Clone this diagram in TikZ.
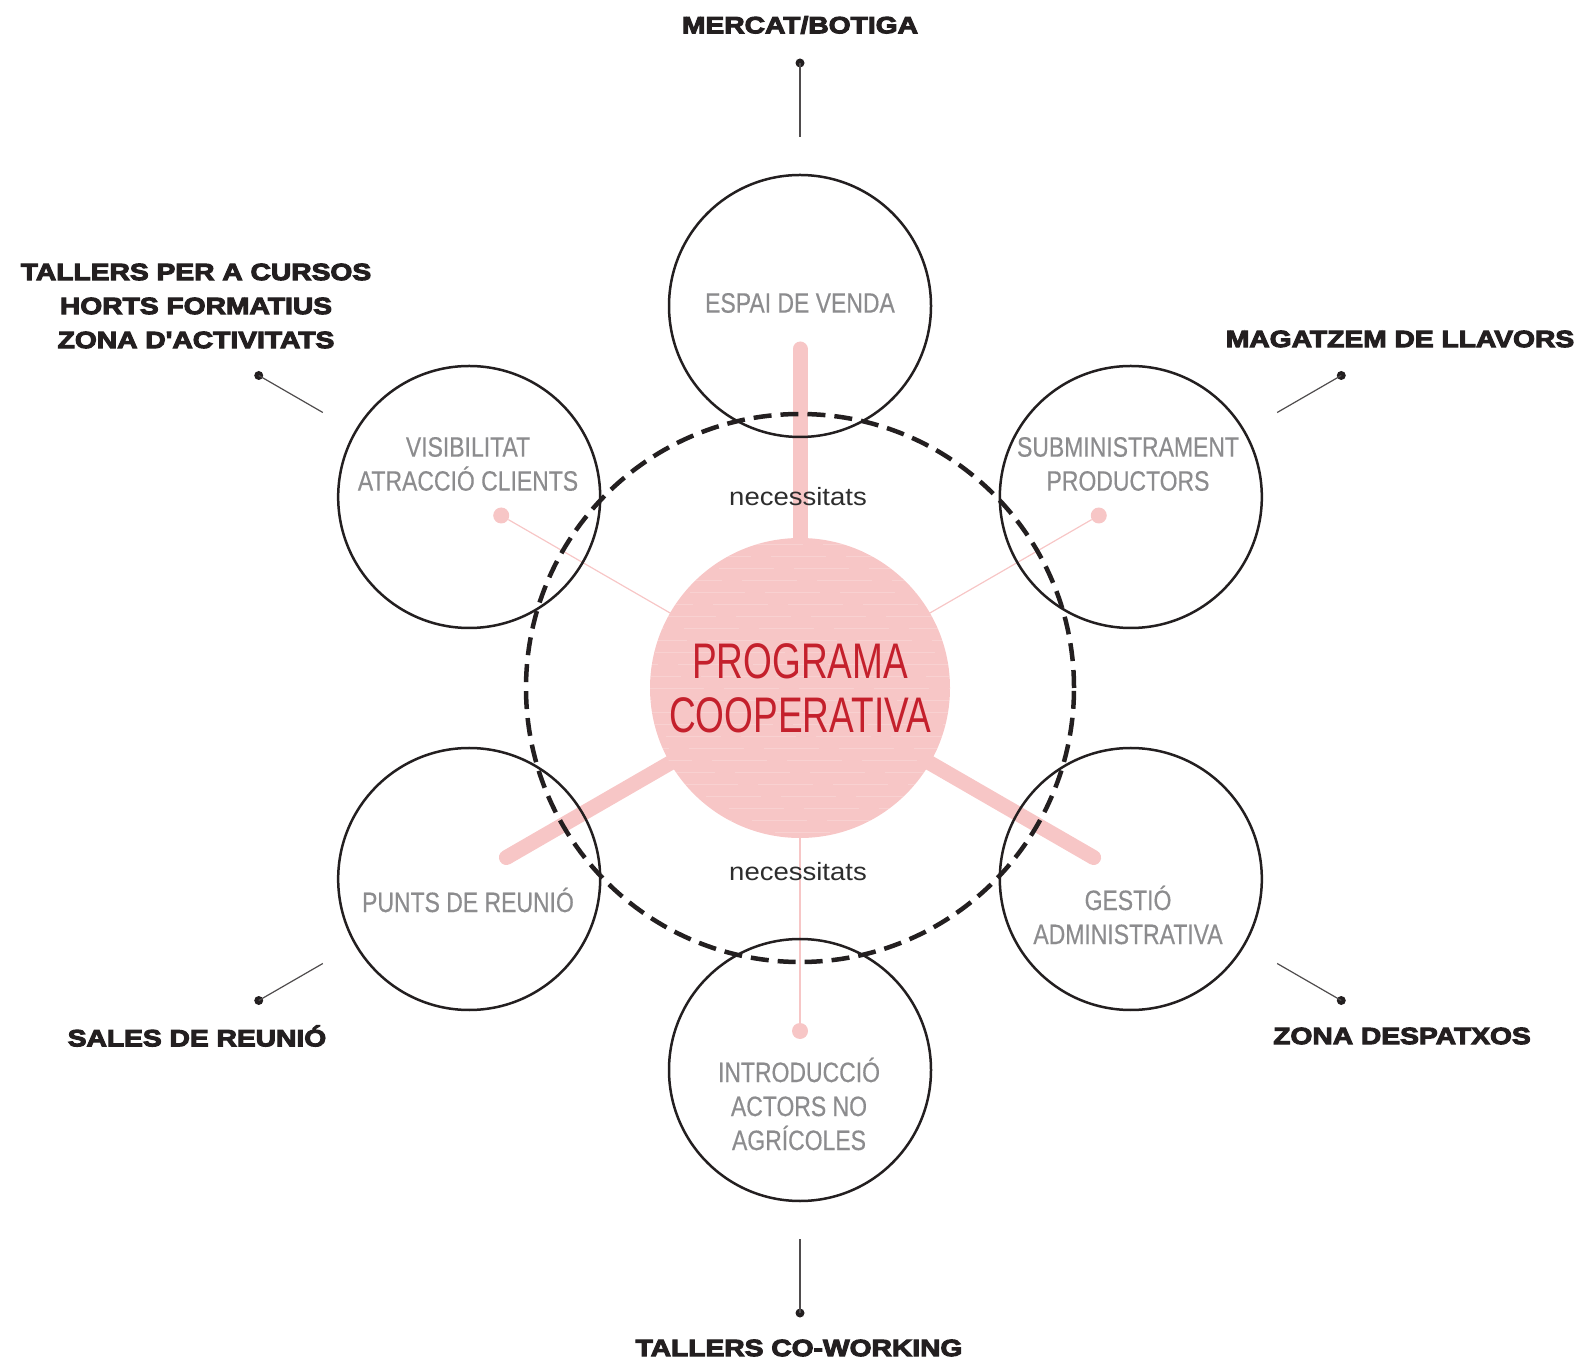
\documentclass[tikz,border=0pt]{standalone}
\usepackage{fontspec}
\setmainfont{Liberation Sans}
\newfontfamily\lblfont{Liberation Sans}[FakeStretch=1.2,BoldFeatures={FakeBold=4.5}]
\newfontfamily\innerfont{Liberation Sans}[FakeStretch=0.82,FakeBold=0.4]
\newfontfamily\progfont{Liberation Sans}[FakeStretch=0.74]
\newfontfamily\needfont{Liberation Sans}[FakeStretch=1.1]
\usetikzlibrary{calc,backgrounds}
\definecolor{pinkc}{RGB}{247,198,198}
\definecolor{redc}{RGB}{196,32,44}
\definecolor{greyt}{RGB}{140,140,142}
\definecolor{inkc}{RGB}{35,31,32}
\definecolor{needc}{RGB}{45,45,45}
\begin{document}
\begin{tikzpicture}[x=1pt,y=1pt,
  sat/.style={circle,draw=inkc,line width=2.5pt,minimum size=262pt,inner sep=0pt},
  hub/.style={circle,fill=pinkc,minimum size=300pt,inner sep=0pt},
  needring/.style={circle,draw=inkc,line width=4.5pt,dash pattern=on 18pt off 9pt,minimum size=548pt,inner sep=0pt},
  lbl/.style={font=\lblfont\bfseries\fontsize{23.5}{34}\selectfont,text=inkc,align=center,inner sep=0pt},
  intxt/.style={font=\innerfont\fontsize{28}{34}\selectfont,text=greyt,align=center,inner sep=0pt},
  needtxt/.style={font=\needfont\fontsize{25}{30}\selectfont,text=needc,inner sep=0pt,anchor=base},
  thick/.style={draw=pinkc,line width=15pt,line cap=round},
  thin/.style={draw=pinkc,line width=1.2pt},
  pdot/.style={circle,fill=pinkc,minimum size=16pt,inner sep=0pt},
  kdot/.style={circle,fill=inkc,minimum size=9pt,inner sep=0pt},
  leader/.style={draw=inkc!80,line width=1.2pt}]
\useasboundingbox (0,0) rectangle (1579,1361);
\coordinate (C) at (800,673);

% central hub with faint texture
\node[hub] (prog) at (C) {};
\begin{scope}
  \clip (C) circle (150);
  \foreach \yy [count=\k] in {-144,-132,...,144}
    \draw[white,opacity=0.2,line width=0.8pt,dash pattern=on 55pt off 20pt,dash phase=\k*23pt]
      ($(C)+(-152,\yy)$) -- ++(304,0);
\end{scope}

% satellite circles
\foreach \a in {90,150,210,270,330,30}
  \node[sat] (s\a) at ($(C)+(\a:382)$) {};

% dashed ring
\node[needring] (ring) at (C) {};

% pink connectors (behind everything)
\coordinate (t90) at ($(C)+(90:339)$);
\coordinate (t210) at ($(C)+(210:339)$);
\coordinate (t330) at ($(C)+(330:339)$);
\node[pdot] (d150) at ($(C)+(150:345)$) {};
\node[pdot] (d30) at ($(C)+(30:345)$) {};
\node[pdot] (d270) at ($(C)+(270:343)$) {};
\begin{pgfonlayer}{background}
  \draw[thick] (prog.center) -- (t90);
  \draw[thick] (prog.center) -- (t210);
  \draw[thick] (prog.center) -- (t330);
  \draw[thin] (prog.center) -- (d150);
  \draw[thin] (prog.center) -- (d30);
  \draw[thin] (prog.center) -- (d270);
\end{pgfonlayer}

% central text
\node[font=\progfont\fontsize{50}{54}\selectfont,text=redc,align=center,inner sep=0pt] (progtxt) at (800,673) {PROGRAMA\\COOPERATIVA};

% need labels
\node[needtxt] (need1) at (798,855) {necessitats};
\node[needtxt] (need2) at (798,480) {necessitats};

% texts in satellites
\node[intxt] (tx90) at (800,1058) {ESPAI DE VENDA};
\node[intxt] (tx150) at (468,897) {VISIBILITAT\\ATRACCIÓ CLIENTS};
\node[intxt] (tx30) at (1128,897) {SUBMINISTRAMENT\\PRODUCTORS};
\node[intxt] (tx210) at (468,461) {PUNTS DE REUNIÓ};
\node[intxt] (tx330) at (1128,446) {GESTIÓ\\ADMINISTRATIVA};
\node[intxt] (tx270) at (799,257) {INTRODUCCIÓ\\ACTORS NO\\AGRÍCOLES};

% leaders
\foreach \a in {90,150,210,270,330,30}{
  \node[kdot] (k\a) at ($(C)+(\a:625)$) {};
  \coordinate (m\a) at ($(C)+(\a:551)$);
  \draw[leader] (k\a.center) -- (m\a);
}

% outer labels
\node[lbl] (o90) at (800,1336) {MERCAT/BOTIGA};
\node[lbl] (o150) at (196,1055) {TALLERS PER A CURSOS\\HORTS FORMATIUS\\ZONA D'ACTIVITATS};
\node[lbl] (o30) at (1400,1022) {MAGATZEM DE LLAVORS};
\node[lbl] (o210) at (197,325) {SALES DE REUNIÓ};
\node[lbl] (o330) at (1402,325) {ZONA DESPATXOS};
\node[lbl] (o270) at (799,13) {TALLERS CO-WORKING};
\end{tikzpicture}
\end{document}
